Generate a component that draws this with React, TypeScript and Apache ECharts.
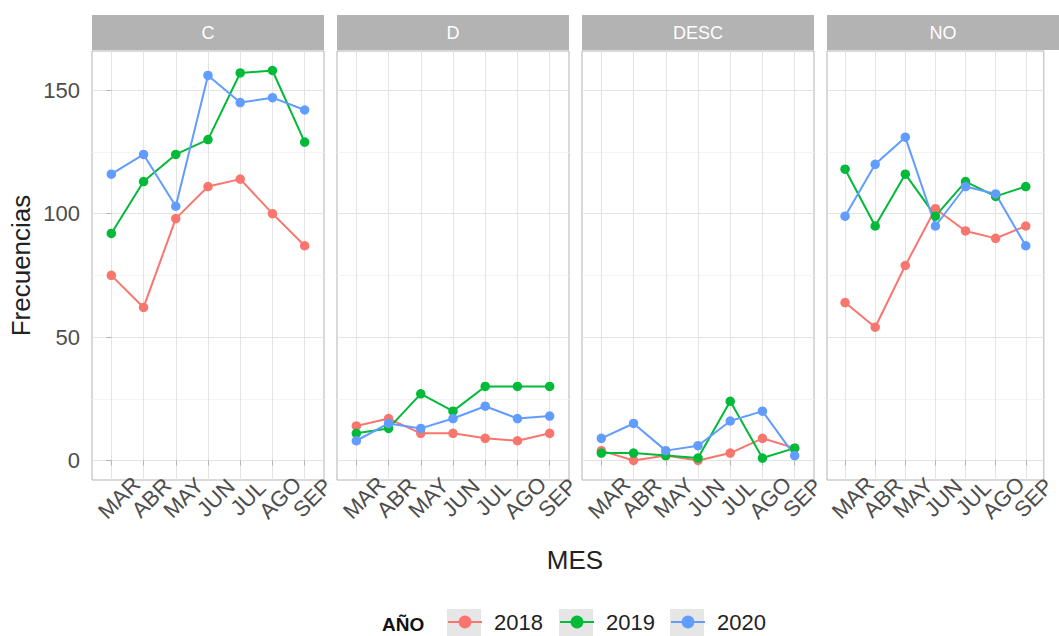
import React, { useEffect, useRef } from "react";
import * as echarts from "echarts";

const MONTHS = ["MAR", "ABR", "MAY", "JUN", "JUL", "AGO", "SEP"];
const PANELS = ["C", "D", "DESC", "NO"];
const YEARS = ["2018", "2019", "2020"];
const COLORS = ["#F8766D", "#00BA38", "#619CFF"];
const Y_TICKS = [0, 50, 100, 150];
const X_TICKS = [0, 1, 2, 3, 4, 5, 6];

// values per panel, per year (MAR..SEP)
const C_2018 = [75, 62, 98, 111, 114, 100, 87];
const C_2019 = [92, 113, 124, 130, 157, 158, 129];
const C_2020 = [116, 124, 103, 156, 145, 147, 142];
const D_2018 = [14, 17, 11, 11, 9, 8, 11];
const D_2019 = [11, 13, 27, 20, 30, 30, 30];
const D_2020 = [8, 15, 13, 17, 22, 17, 18];
const DESC_2018 = [4, 0, 2, 0, 3, 9, 5];
const DESC_2019 = [3, 3, 2, 1, 24, 1, 5];
const DESC_2020 = [9, 15, 4, 6, 16, 20, 2];
const NO_2018 = [64, 54, 79, 102, 93, 90, 95];
const NO_2019 = [118, 95, 116, 99, 113, 107, 111];
const NO_2020 = [99, 120, 131, 95, 111, 108, 87];

const VALUES = [
  [C_2018, C_2019, C_2020],
  [D_2018, D_2019, D_2020],
  [DESC_2018, DESC_2019, DESC_2020],
  [NO_2018, NO_2019, NO_2020],
];

const FONT = "Liberation Sans";
const PANEL_LEFT = [92, 337, 582, 827];
const PANEL_W = [232, 232, 232, 232];
const PANEL_TOP = 51;
const PANEL_H = 429;
const STRIP_TOP = 15;
const STRIP_H = 35;
const KEY_X = [447, 559, 670];
const KEY_Y = 609;

export default function App() {
  const ref = useRef<HTMLDivElement>(null);
  useEffect(() => {
    if (!ref.current) return;
    const chart = echarts.init(ref.current, null, { renderer: "svg" });

    const grids = PANELS.map((_, p) => ({
      left: PANEL_LEFT[p],
      top: PANEL_TOP,
      width: PANEL_W[p],
      height: PANEL_H,
      show: true,
      borderColor: "#b3b3b3",
      borderWidth: 1,
      backgroundColor: "#ffffff",
    }));

    const xAxes = PANELS.map((_, p) => ({
      type: "value",
      gridIndex: p,
      min: -0.6,
      max: 6.6,
      minInterval: 1,
      maxInterval: 1,
      axisLine: { show: false },
      axisTick: {
        show: true,
        length: 5,
        customValues: X_TICKS,
        lineStyle: { color: "#b3b3b3" },
      },
      axisLabel: {
        formatter: (v: number) =>
          Number.isInteger(v) && MONTHS[v] ? MONTHS[v] : "",
        rotate: 45,
        align: "center",
        verticalAlign: "top",
        margin: 10,
        fontSize: 22,
        color: "#4d4d4d",
        fontFamily: FONT,
      },
      splitLine: { show: true, lineStyle: { color: "#e3e3e3", width: 1 } },
    }));

    const yAxes = PANELS.map((_, p) => ({
      type: "value",
      gridIndex: p,
      min: -7.9,
      max: 165.9,
      minInterval: 50,
      maxInterval: 50,
      axisLine: { show: false },
      axisTick: {
        show: p === 0,
        length: 5,
        customValues: Y_TICKS,
        lineStyle: { color: "#b3b3b3" },
      },
      minorTick: { show: false, splitNumber: 2 },
      axisLabel: {
        show: p === 0,
        formatter: (v: number) => (Y_TICKS.includes(v) ? String(v) : ""),
        margin: 12,
        fontSize: 22,
        color: "#4d4d4d",
        fontFamily: FONT,
      },
      splitLine: { show: true, lineStyle: { color: "#e3e3e3", width: 1 } },
      minorSplitLine: { show: true, lineStyle: { color: "#f3f3f3", width: 1 } },
      name: p === 0 ? "Frecuencias" : "",
      nameLocation: "middle",
      nameGap: 58,
      nameTextStyle: { fontSize: 26, color: "#222", fontFamily: FONT },
    }));

    const series: any[] = [];
    PANELS.forEach((_, p) => {
      YEARS.forEach((year, y) => {
        series.push({
          type: "line",
          name: year,
          xAxisIndex: p,
          yAxisIndex: p,
          data: VALUES[p][y].map((v, i) => [i, v]),
          symbol: "circle",
          symbolSize: 9.5,
          color: COLORS[y],
          lineStyle: { width: 2, color: COLORS[y] },
          itemStyle: { color: COLORS[y] },
        });
      });
    });

    const legends = YEARS.map((year, y) => ({
      data: [year],
      left: KEY_X[y],
      top: KEY_Y + 2,
      itemWidth: 34,
      itemHeight: 16,
      itemGap: 0,
      padding: 0,
      textStyle: {
        fontSize: 22,
        color: "#222",
        fontFamily: FONT,
        padding: [0, 0, 0, 7],
      },
      z: 5,
    }));

    const graphic: any[] = [];
    PANELS.forEach((name, p) => {
      graphic.push({
        type: "rect",
        shape: { x: PANEL_LEFT[p], y: STRIP_TOP, width: PANEL_W[p], height: STRIP_H },
        style: { fill: "#b3b3b3" },
        silent: true,
      });
      graphic.push({
        type: "text",
        x: PANEL_LEFT[p] + PANEL_W[p] / 2,
        y: STRIP_TOP + STRIP_H / 2,
        style: {
          text: name,
          fill: "#ffffff",
          fontSize: 18,
          fontFamily: FONT,
          textAlign: "center",
          textVerticalAlign: "middle",
        },
        silent: true,
      });
    });
    KEY_X.forEach((x) => {
      graphic.push({
        type: "rect",
        z: 0,
        shape: { x, y: KEY_Y, width: 34, height: 34 },
        style: { fill: "#e6e6e6" },
        silent: true,
      });
    });
    graphic.push({
      type: "text",
      x: 382,
      y: 624,
      style: {
        text: "AÑO",
        fill: "#111",
        fontSize: 19,
        fontWeight: "bold",
        fontFamily: FONT,
        textAlign: "left",
        textVerticalAlign: "middle",
      },
    });
    graphic.push({
      type: "text",
      x: 575,
      y: 560,
      style: {
        text: "MES",
        fill: "#222",
        fontSize: 26,
        fontFamily: FONT,
        textAlign: "center",
        textVerticalAlign: "middle",
      },
    });

    chart.setOption({
      animation: false,
      backgroundColor: "#ffffff",
      grid: grids,
      xAxis: xAxes,
      yAxis: yAxes,
      legend: legends,
      series,
      graphic,
    });
    return () => chart.dispose();
  }, []);

  return (
    <div
      ref={ref}
      style={{ position: "absolute", left: 0, top: 0, width: 1059, height: 636 }}
    />
  );
}
